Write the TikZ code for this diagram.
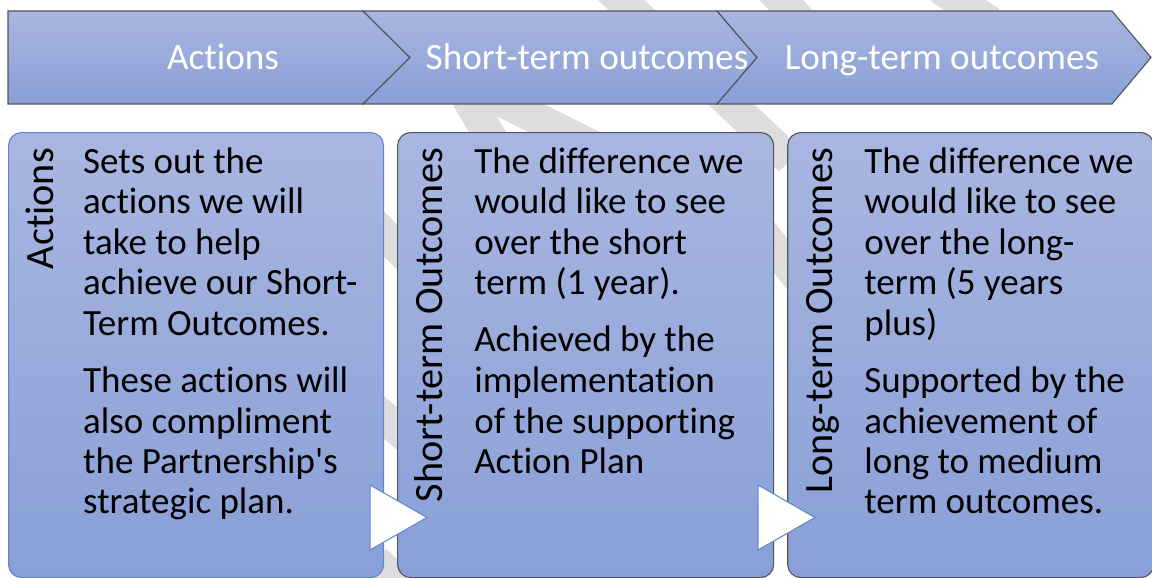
\documentclass[tikz,border=0pt]{standalone}
\usepackage{fontspec}
\setmainfont{Carlito}[Ligatures={TeX,NoCommon}]
\usetikzlibrary{positioning}

\definecolor{bandtop}{RGB}{169,182,224}
\definecolor{bandbottom}{RGB}{137,159,215}
\definecolor{outline}{RGB}{80,84,96}
\definecolor{bluerim}{RGB}{92,132,206}
\definecolor{watermark}{RGB}{221,221,221}

\begin{document}
\begin{tikzpicture}[x=1pt, y=-1pt,
    chevron/.style={draw=outline, line width=1.1pt, top color=bandtop, bottom color=bandbottom},
    headtext/.style={text=white, anchor=base, inner sep=0pt, font=\fontsize{37.2}{40}\selectfont},
    stagebox/.style={rectangle, draw=outline, line width=1.1pt, rounded corners=13pt,
        top color=bandtop, bottom color=bandbottom, minimum height=445pt, inner sep=0pt,
        anchor=north west},
    sidetag/.style={rotate=90, anchor=base east, inner sep=0pt, font=\fontsize{40.2}{44}\selectfont},
    bodytext/.style={anchor=base west, inner sep=0pt},
    pointer/.style={draw=bluerim, fill=white, line width=1pt},
    wmark/.style={draw=watermark, line width=32pt}
]
\useasboundingbox (0,0) rectangle (1152,578);

\draw[wmark] (600,-20) -- (790,160);
\draw[wmark] (770,-12) -- (800,20);
\draw[wmark] (940,-12) -- (990,22);
\draw[wmark] (445,60) -- (510,170);
\draw[wmark] (480,90) -- (620,160);
\draw[wmark] (370,220) -- (410,260);
\draw[wmark] (370,405) -- (410,440);
\draw[wmark] (375,560) -- (405,590);
\draw[wmark] (760,230) -- (800,280);

\draw[chevron] (8,11) -- (363,11) -- (410,57.5) -- (363,104) -- (8,104) -- cycle;
\draw[chevron] (363,11) -- (717,11) -- (757,57.5) -- (717,104) -- (363,104) -- (410,57.5) -- cycle;
\draw[chevron] (717,11) -- (1112,11) -- (1151,57.5) -- (1112,104) -- (717,104) -- (757,57.5) -- cycle;
\node (ActionsHead) [headtext] at (223,70) {Actions};
\node (ShortHead) [headtext] at (587,70) {Short-term outcomes};
\node (LongHead) [headtext] at (942,70) {Long-term outcomes};

\node (Actions) [stagebox, draw=bluerim, minimum width=375pt] at (8,132) {};
\node (ShortTerm) [stagebox, minimum width=376pt, right=13pt of Actions] {};
\node (LongTerm) [stagebox, minimum width=366pt, right=13pt of ShortTerm] {};

\node (ActionsTag) [sidetag] at ([xshift=45pt, yshift=-16pt]Actions.north west) {Actions};
\node (ShortTag) [sidetag] at ([xshift=45pt, yshift=-16pt]ShortTerm.north west) {Short-term Outcomes};
\node (LongTag) [sidetag] at ([xshift=45pt, yshift=-16pt]LongTerm.north west) {Long-term Outcomes};

\node (ActionsText) [bodytext] at ([xshift=75pt, yshift=-41pt]Actions.north west) {%
  \parbox[t]{300pt}{\raggedright\fontsize{37}{40.5}\selectfont
  Sets out the\\ actions we will\\ take to help\\ achieve our Short-\\ Term Outcomes.\\[17pt]
  These actions will\\ also compliment\\ the Partnership\textquotesingle s\\ strategic plan.}};
\node (ShortText) [bodytext] at ([xshift=77pt, yshift=-41pt]ShortTerm.north west) {%
  \parbox[t]{300pt}{\raggedright\fontsize{37}{40.5}\selectfont
  The difference we\\ would like to see\\ over the short\\ term (1 year).\\[17pt]
  Achieved by the\\ implementation\\ of the supporting\\ Action Plan}};
\node (LongText) [bodytext] at ([xshift=77pt, yshift=-41pt]LongTerm.north west) {%
  \parbox[t]{300pt}{\raggedright\fontsize{37}{40.5}\selectfont
  The difference we\\ would like to see\\ over the long-\\ term (5 years\\ plus)\\[17pt]
  Supported by the\\ achievement of\\ long to medium\\ term outcomes.}};

\draw[pointer] (370,485) -- (427,517.5) -- (370,550) -- cycle;
\draw[pointer] (758,485) -- (815,517.5) -- (758,550) -- cycle;
\end{tikzpicture}
\end{document}
